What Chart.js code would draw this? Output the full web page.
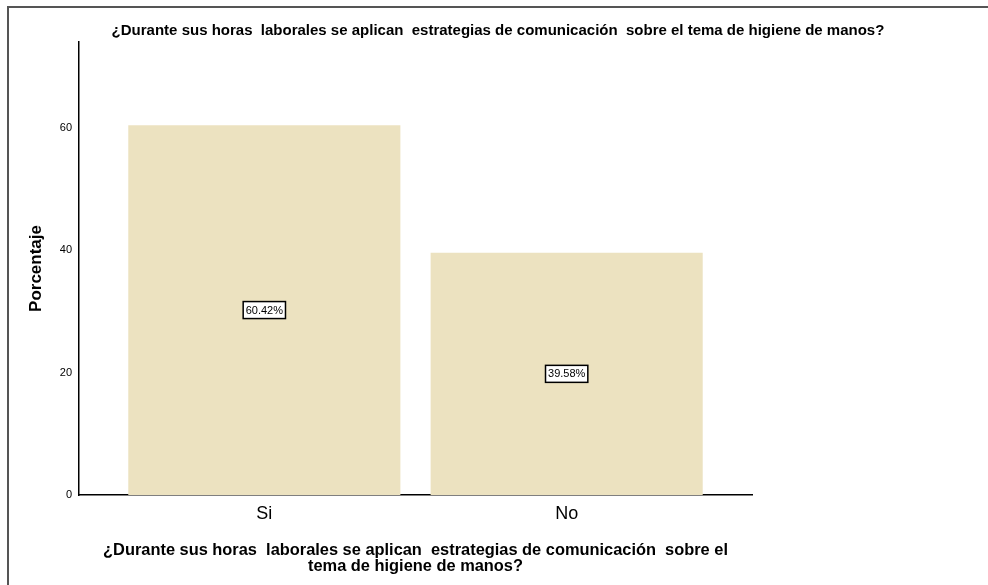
<!DOCTYPE html>
<html lang="es">
<head>
  <meta charset="UTF-8" />
  <title>Higiene de manos</title>
  <script src="https://cdn.jsdelivr.net/npm/chart.js"></script>
  <style>
    * {
      margin: 0;
      padding: 0;
      box-sizing: border-box;
    }

    body {
      background: #fff;
      width: 988px;
      height: 585px;
      overflow: hidden;
    }

    .chart-container {
      position: relative;
      width: 988px;
      height: 585px;
    }
  </style>
</head>
<body>

<div class="chart-container">
  <canvas id="chart"></canvas>
</div>

<script>
  const categories = ["Si", "No"];
  const percentages = [60.42, 39.58];
  const yTicks = [0, 20, 40, 60];

  const chartTitle = "¿Durante sus horas  laborales se aplican  estrategias de comunicación  sobre el tema de higiene de manos?";
  const xTitle = ["¿Durante sus horas  laborales se aplican  estrategias de comunicación  sobre el", "tema de higiene de manos?"];
  const yTitle = "Porcentaje";

  const FONT = "'Liberation Sans', Arial, sans-serif";

  // marco gris y título superior
  const framePlugin = {
    id: "frame",
    beforeDraw(chart) {
      const ctx = chart.ctx;
      ctx.save();
      ctx.strokeStyle = "#555";
      ctx.lineWidth = 2;
      ctx.beginPath();
      ctx.moveTo(8, chart.height);
      ctx.lineTo(8, 7);
      ctx.lineTo(chart.width, 7);
      ctx.stroke();

      ctx.fillStyle = "#000";
      ctx.font = "bold 15px " + FONT;
      ctx.textAlign = "center";
      ctx.textBaseline = "middle";
      ctx.fillText(chartTitle, chart.width / 2 + 4, 31);
      ctx.restore();
    }
  };

  // etiquetas con recuadro a media altura de cada barra
  const boxLabels = {
    id: "boxLabels",
    afterDatasetsDraw(chart) {
      const ctx = chart.ctx;
      const yScale = chart.scales.y;
      const meta = chart.getDatasetMeta(0);
      ctx.save();
      ctx.font = "11px " + FONT;
      ctx.textAlign = "center";
      ctx.textBaseline = "middle";
      meta.data.forEach((bar, i) => {
        const text = percentages[i].toFixed(2) + "%";
        const y = yScale.getPixelForValue(percentages[i] / 2);
        const w = ctx.measureText(text).width + 5;
        const h = 17;
        ctx.fillStyle = "#fff";
        ctx.fillRect(bar.x - w / 2, y - h / 2, w, h);
        ctx.strokeStyle = "#000";
        ctx.lineWidth = 1.5;
        ctx.strokeRect(bar.x - w / 2, y - h / 2, w, h);
        ctx.fillStyle = "#000";
        ctx.fillText(text, bar.x, y + 0.5);
      });
      ctx.restore();
    }
  };

  new Chart(document.getElementById("chart"), {
    type: "bar",
    data: {
      datasets: [{
        data: percentages.map((v, i) => ({ x: i + 1, y: v })),
        backgroundColor: "#ece2c0",
        borderWidth: 0,
        barPercentage: 0.9,
        categoryPercentage: 1
      }]
    },
    options: {
      responsive: true,
      maintainAspectRatio: false,
      animation: false,
      layout: {
        padding: { top: 42, right: 236, left: 0, bottom: 0 }
      },
      plugins: {
        legend: { display: false },
        tooltip: { enabled: false }
      },
      scales: {
        x: {
          type: "linear",
          min: 0.387,
          max: 2.613,
          offset: false,
          grid: { display: false, drawTicks: false, offset: false },
          border: { display: true, color: "#000", width: 1.5 },
          afterBuildTicks: (scale) => {
            scale.ticks = categories.map((c, i) => ({ value: i + 1 }));
          },
          afterFit: (scale) => { scale.height = 90; },
          ticks: {
            color: "#000",
            padding: 8,
            font: { family: FONT, size: 18 },
            callback: (v) => categories[v - 1]
          },
          title: {
            display: true,
            text: xTitle,
            color: "#000",
            font: { family: FONT, size: 16.4, weight: "bold", lineHeight: 1 },
            padding: { top: 0, bottom: 10 }
          }
        },
        y: {
          min: 0,
          max: 74,
          grid: { display: false, drawTicks: false },
          border: { display: true, color: "#000", width: 1.5 },
          afterBuildTicks: (scale) => {
            scale.ticks = yTicks.map(v => ({ value: v }));
          },
          afterFit: (scale) => { scale.width = 79; },
          ticks: {
            color: "#000",
            padding: 7,
            font: { family: FONT, size: 11 }
          },
          title: {
            display: true,
            text: yTitle,
            color: "#000",
            font: { family: FONT, size: 17, weight: "bold" },
            padding: { top: 26, bottom: 0 }
          }
        }
      }
    },
    plugins: [framePlugin, boxLabels]
  });
</script>

</body>
</html>
